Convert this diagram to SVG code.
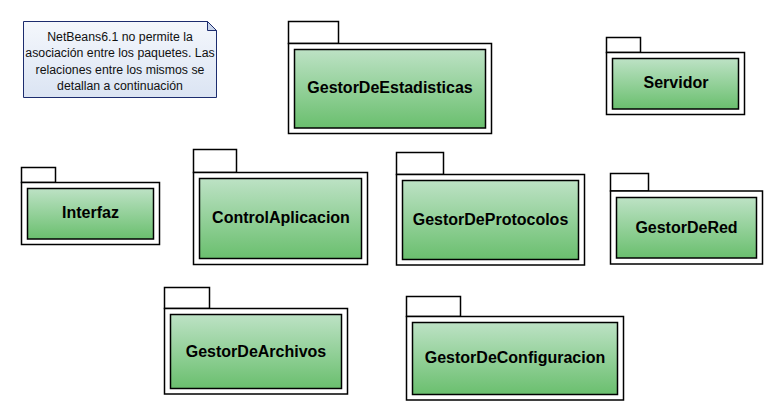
<svg xmlns="http://www.w3.org/2000/svg" width="769" height="415" viewBox="0 0 769 415">
<defs>
<linearGradient id="g" x1="0" y1="0" x2="0" y2="1">
<stop offset="0" stop-color="#bde2c5"/>
<stop offset="1" stop-color="#6abf6e"/>
</linearGradient>
<linearGradient id="n" x1="0" y1="0" x2="0" y2="1">
<stop offset="0" stop-color="#f4f7fc"/>
<stop offset="1" stop-color="#dbe4f3"/>
</linearGradient>
</defs>
<style>
.o{fill:#fff;stroke:#000;stroke-width:1.5}
.i{fill:url(#g);stroke:#000;stroke-width:1.5}
.t{font-family:"Liberation Sans",Arial,sans-serif;font-weight:bold;font-size:16px;fill:#000;text-anchor:middle}
.nt{font-family:"Liberation Sans",Arial,sans-serif;font-size:12.3px;fill:#111;text-anchor:middle}
.nb{fill:url(#n);stroke:#1c2c6e;stroke-width:1}
</style>
<g id="nota">
<path class="nb" d="M23.5 21.5 H207.5 L216.5 30.5 V97.5 H23.5 Z"/>
<path d="M207.5 21.5 V30.5 H216.5 Z" fill="#c9d5ea" stroke="#1c2c6e" stroke-width="1"/>
<text class="nt" x="120" y="41">NetBeans6.1 no permite la</text>
<text class="nt" x="120" y="57">asociación entre los paquetes. Las</text>
<text class="nt" x="120" y="74">relaciones entre los mismos se</text>
<text class="nt" x="120" y="90">detallan a continuación</text>
</g>
<g id="GestorDeEstadisticas">
<rect class="o" x="288.5" y="21.5" width="50" height="22"/>
<rect class="o" x="288.5" y="43.5" width="203" height="90"/>
<rect class="i" x="294.5" y="49.5" width="191" height="78.5"/>
<text class="t" x="390" y="93">GestorDeEstadisticas</text>
</g>
<g id="Servidor">
<rect class="o" x="606.5" y="37.5" width="34" height="15"/>
<rect class="o" x="606.5" y="52.5" width="138" height="62"/>
<rect class="i" x="612.5" y="58.5" width="126" height="50.5"/>
<text class="t" x="676" y="88">Servidor</text>
</g>
<g id="Interfaz">
<rect class="o" x="21.5" y="167.5" width="34" height="15"/>
<rect class="o" x="21.5" y="182.5" width="138" height="62"/>
<rect class="i" x="27.5" y="188.5" width="126" height="50.5"/>
<text class="t" x="90.5" y="218">Interfaz</text>
</g>
<g id="ControlAplicacion">
<rect class="o" x="193.5" y="149.5" width="43" height="23"/>
<rect class="o" x="193.5" y="172.5" width="174" height="92"/>
<rect class="i" x="199.5" y="178.5" width="162" height="80"/>
<text class="t" x="281" y="223">ControlAplicacion</text>
</g>
<g id="GestorDeProtocolos">
<rect class="o" x="396.5" y="152.5" width="47" height="22"/>
<rect class="o" x="396.5" y="174.5" width="188" height="90.5"/>
<rect class="i" x="402.5" y="180.5" width="176" height="79"/>
<text class="t" x="490.5" y="225">GestorDeProtocolos</text>
</g>
<g id="GestorDeRed">
<rect class="o" x="610.5" y="173.5" width="38" height="17.5"/>
<rect class="o" x="610.5" y="191" width="152" height="73"/>
<rect class="i" x="616.5" y="197.5" width="140" height="60.5"/>
<text class="t" x="686.5" y="233">GestorDeRed</text>
</g>
<g id="GestorDeArchivos">
<rect class="o" x="164.5" y="287.5" width="45" height="21"/>
<rect class="o" x="164.5" y="308.5" width="183" height="85.5"/>
<rect class="i" x="170.5" y="314.5" width="171" height="74"/>
<text class="t" x="256" y="357">GestorDeArchivos</text>
</g>
<g id="GestorDeConfiguracion">
<rect class="o" x="406.5" y="296.5" width="54" height="20"/>
<rect class="o" x="406.5" y="316.5" width="217" height="83.5"/>
<rect class="i" x="412.5" y="322.5" width="205" height="72"/>
<text class="t" x="515" y="363">GestorDeConfiguracion</text>
</g>
<g id="connectors"></g>
</svg>
